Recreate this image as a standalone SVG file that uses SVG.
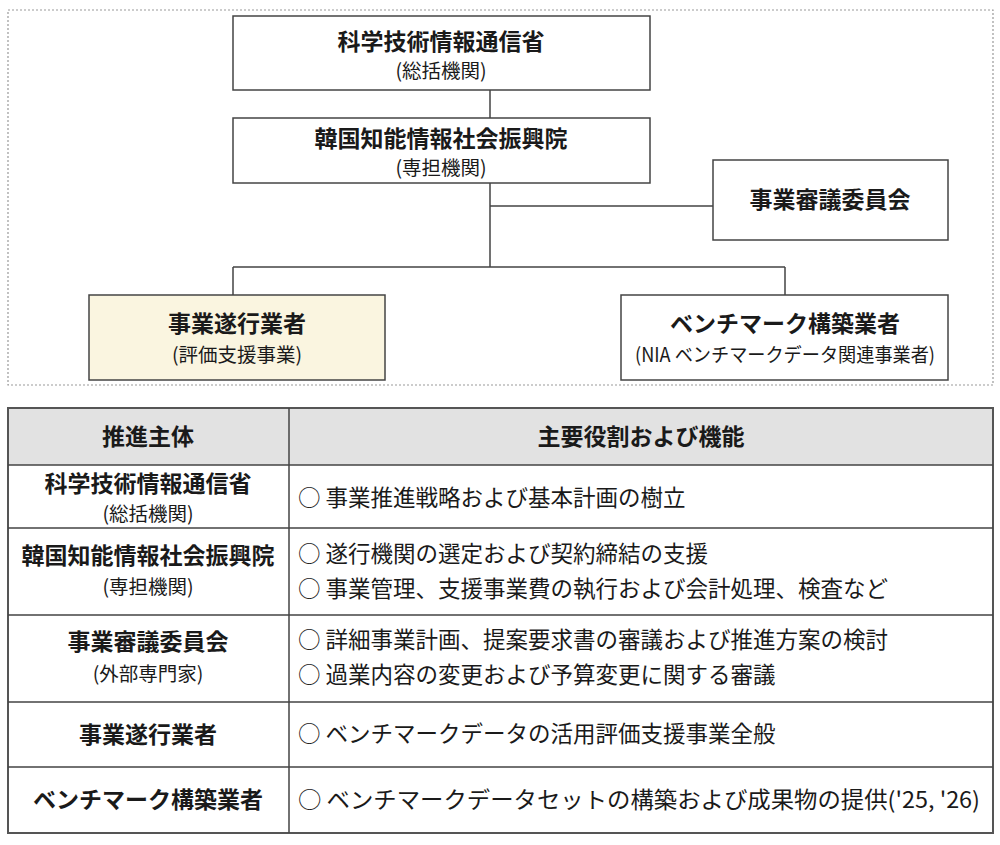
<svg xmlns="http://www.w3.org/2000/svg" width="1000" height="845" viewBox="0 0 1000 845">
<style>
text{font-family:"Noto Sans CJK JP","Noto Sans CJK SC",sans-serif;fill:#1a1a1a}
.b{font-weight:700;font-size:23px}
.s{font-size:19.5px}
.t{font-size:22.5px}
.box{fill:#fff;stroke:#444;stroke-width:1.5}
.ln{stroke:#444;stroke-width:1.5;fill:none}
</style>
<rect width="1000" height="845" fill="#fff"/>
<rect x="8" y="10" width="985" height="375" fill="none" stroke="#999" stroke-width="1.2" stroke-dasharray="2,2"/>
<g id="connectors">
<path class="ln" d="M490 90V118M490 183V267M490 206H713M233 267H785M233 267V295M785 267V295"/>
</g>
<g id="n1"><rect class="box" x="233" y="16" width="417" height="74"/>
<text class="b" x="441" y="50" text-anchor="middle">科学技術情報通信省</text>
<text class="s" x="441" y="78" text-anchor="middle">(総括機関)</text></g>
<g id="n2"><rect class="box" x="233" y="118" width="417" height="65"/>
<text class="b" x="441" y="147" text-anchor="middle">韓国知能情報社会振興院</text>
<text class="s" x="441" y="175" text-anchor="middle">(専担機関)</text></g>
<g id="n3"><rect class="box" x="713" y="160" width="235" height="80"/>
<text class="b" x="830" y="208" text-anchor="middle">事業審議委員会</text></g>
<g id="n4"><rect class="box" x="89" y="295" width="296" height="85" style="fill:#faf5e0"/>
<text class="b" x="237" y="332" text-anchor="middle">事業遂行業者</text>
<text class="s" x="237" y="362" text-anchor="middle">(評価支援事業)</text></g>
<g id="n5"><rect class="box" x="621" y="295" width="327" height="85"/>
<text class="b" x="785" y="332" text-anchor="middle">ベンチマーク構築業者</text>
<text class="s" x="785" y="362" text-anchor="middle" textLength="300" lengthAdjust="spacingAndGlyphs">(NIA ベンチマークデータ関連事業者)</text></g>
<g id="table">
<rect x="8" y="408" width="985" height="57" fill="#e2e2e2"/>
<rect x="8" y="408" width="985" height="425" fill="none" stroke="#555" stroke-width="2"/>
<path class="ln" d="M289 408V833M8 465H993M8 528H993M8 615H993M8 702H993M8 767H993"/>
<text class="b" x="148" y="445" text-anchor="middle">推進主体</text>
<text class="b" x="641" y="445" text-anchor="middle">主要役割および機能</text>
<text class="b" x="148" y="492" text-anchor="middle">科学技術情報通信省</text>
<text class="s" x="148" y="521" text-anchor="middle">(総括機関)</text>
<text class="t" x="298" y="506">○ 事業推進戦略および基本計画の樹立</text>
<text class="b" x="148" y="564" text-anchor="middle">韓国知能情報社会振興院</text>
<text class="s" x="148" y="594" text-anchor="middle">(専担機関)</text>
<text class="t" x="298" y="562">○ 遂行機関の選定および契約締結の支援</text>
<text class="t" x="298" y="597">○ 事業管理、支援事業費の執行および会計処理、検査など</text>
<text class="b" x="148" y="650" text-anchor="middle">事業審議委員会</text>
<text class="s" x="148" y="681" text-anchor="middle">(外部専門家)</text>
<text class="t" x="298" y="648">○ 詳細事業計画、提案要求書の審議および推進方案の検討</text>
<text class="t" x="298" y="683">○ 過業内容の変更および予算変更に関する審議</text>
<text class="b" x="148" y="743" text-anchor="middle">事業遂行業者</text>
<text class="t" x="298" y="742">○ ベンチマークデータの活用評価支援事業全般</text>
<text class="b" x="148" y="808" text-anchor="middle">ベンチマーク構築業者</text>
<text class="t" x="298" y="808" textLength="682" lengthAdjust="spacingAndGlyphs">○ ベンチマークデータセットの構築および成果物の提供('25, '26)</text>
</g>
</svg>
